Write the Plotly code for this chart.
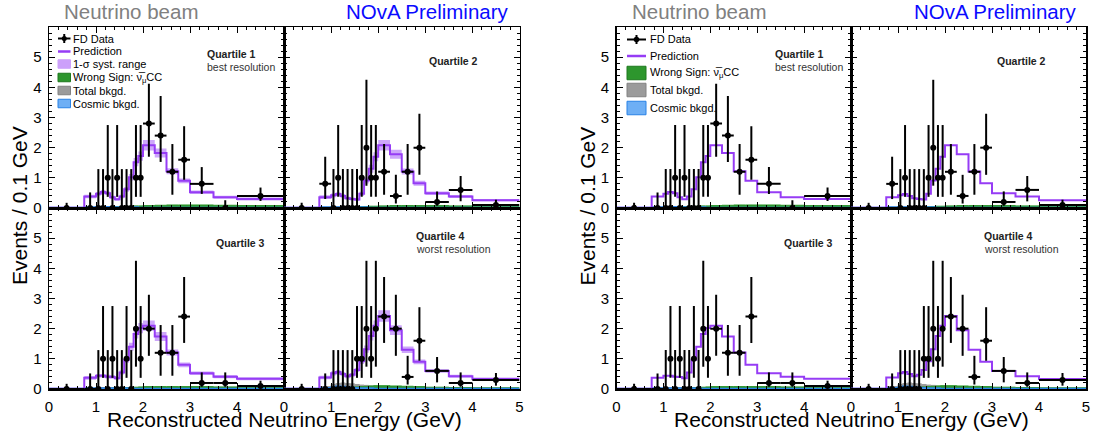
import plotly.graph_objects as go

# ---------------- data ----------------
bin_edges = [0, 0.75, 1.0, 1.1, 1.2, 1.3, 1.4, 1.5, 1.6, 1.7, 1.8, 1.9, 2.0,
             2.25, 2.5, 2.75, 3.0, 3.5, 4.0, 5.0]
tick_labels = ["0", "1", "2", "3", "4", "5"]

# observed FD events per bin
q1_counts = [0, 0, 0, 0, 1, 0, 1, 0, 0, 0, 1, 1, 7, 6, 3, 4, 4, 0, 4]
q2_counts = [0, 2, 0, 1, 0, 0, 0, 0, 1, 2, 1, 1, 3, 1, 3, 5, 1, 3, 1]
q3_counts = [0, 0, 0, 1, 0, 1, 0, 0, 1, 0, 2, 1, 5, 3, 3, 6, 1, 1, 1]
q4_counts = [0, 0, 0, 0, 0, 0, 0, 1, 1, 2, 1, 2, 6, 5, 1, 4, 3, 1, 3]

# Feldman-Cousins 68% intervals for n = 0..7 events
fc_lower = [0.00, 0.37, 0.74, 1.10, 2.34, 2.75, 3.82, 4.25]
fc_upper = [1.29, 2.75, 4.25, 5.30, 6.78, 7.81, 9.28, 10.30]

# prediction (events / 0.1 GeV)
q1_pred = [0.01, 0.38, 0.47, 0.53, 0.49, 0.36, 0.29, 0.38, 0.62, 1.02, 1.52, 1.72, 2.08, 1.82, 1.22, 0.90, 0.52, 0.36, 0.30]
q2_pred = [0.01, 0.36, 0.42, 0.46, 0.40, 0.32, 0.30, 0.28, 0.47, 0.91, 1.30, 1.70, 2.08, 1.78, 1.21, 0.82, 0.49, 0.38, 0.26]
q3_pred = [0.01, 0.37, 0.44, 0.44, 0.41, 0.40, 0.36, 0.55, 0.97, 1.40, 1.82, 2.02, 2.10, 1.74, 1.21, 0.80, 0.52, 0.41, 0.34]
q4_pred = [0.01, 0.38, 0.52, 0.56, 0.50, 0.42, 0.47, 0.63, 0.92, 1.32, 1.76, 2.10, 2.42, 1.95, 1.30, 0.90, 0.60, 0.42, 0.33]

# 1-sigma systematic half-width
q1_syst = [0.005, 0.06, 0.06, 0.07, 0.06, 0.05, 0.05, 0.06, 0.08, 0.11, 0.14, 0.15, 0.17, 0.15, 0.10, 0.08, 0.06, 0.05, 0.05]
q2_syst = [0.005, 0.06, 0.06, 0.06, 0.06, 0.05, 0.05, 0.05, 0.07, 0.10, 0.13, 0.15, 0.17, 0.15, 0.10, 0.08, 0.06, 0.05, 0.04]
q3_syst = [0.005, 0.06, 0.06, 0.06, 0.06, 0.06, 0.05, 0.07, 0.10, 0.13, 0.15, 0.17, 0.17, 0.15, 0.10, 0.08, 0.06, 0.05, 0.05]
q4_syst = [0.005, 0.06, 0.07, 0.07, 0.06, 0.06, 0.06, 0.07, 0.09, 0.12, 0.15, 0.17, 0.19, 0.16, 0.11, 0.08, 0.06, 0.05, 0.05]

# backgrounds
q1_wrongsign = [0.00, 0.01, 0.02, 0.02, 0.03, 0.03, 0.04, 0.04, 0.05, 0.06, 0.07, 0.07, 0.08, 0.09, 0.10, 0.10, 0.10, 0.09, 0.08]
q2_wrongsign = [0.00, 0.01, 0.02, 0.02, 0.02, 0.03, 0.03, 0.04, 0.04, 0.05, 0.06, 0.06, 0.07, 0.08, 0.08, 0.08, 0.08, 0.07, 0.06]
q3_wrongsign = [0.00, 0.01, 0.02, 0.02, 0.02, 0.03, 0.03, 0.04, 0.05, 0.05, 0.06, 0.07, 0.08, 0.08, 0.08, 0.08, 0.08, 0.07, 0.06]
q4_wrongsign = [0.00, 0.02, 0.03, 0.04, 0.05, 0.05, 0.06, 0.07, 0.08, 0.09, 0.10, 0.11, 0.11, 0.10, 0.09, 0.08, 0.06, 0.05, 0.04]

q1_totbkg = [0.01, 0.03, 0.04, 0.04, 0.04, 0.04, 0.04, 0.04, 0.04, 0.03, 0.03, 0.03, 0.03, 0.02, 0.02, 0.02, 0.02, 0.02, 0.02]
q2_totbkg = [0.01, 0.03, 0.04, 0.04, 0.04, 0.04, 0.04, 0.04, 0.04, 0.03, 0.03, 0.03, 0.03, 0.02, 0.02, 0.02, 0.02, 0.02, 0.02]
q3_totbkg = [0.01, 0.03, 0.04, 0.05, 0.05, 0.05, 0.04, 0.04, 0.04, 0.04, 0.03, 0.03, 0.03, 0.02, 0.02, 0.02, 0.02, 0.02, 0.02]
q4_totbkg = [0.01, 0.08, 0.15, 0.18, 0.20, 0.18, 0.17, 0.15, 0.13, 0.12, 0.10, 0.09, 0.08, 0.06, 0.05, 0.04, 0.03, 0.02, 0.02]

q1_cosmic = [0.02, 0.03, 0.04, 0.04, 0.04, 0.03, 0.03, 0.03, 0.03, 0.03, 0.03, 0.02, 0.02, 0.02, 0.02, 0.02, 0.02, 0.02, 0.02]
q2_cosmic = [0.02, 0.03, 0.03, 0.03, 0.03, 0.03, 0.03, 0.03, 0.03, 0.03, 0.02, 0.02, 0.02, 0.02, 0.02, 0.02, 0.02, 0.02, 0.02]
q3_cosmic = [0.02, 0.03, 0.03, 0.03, 0.03, 0.03, 0.03, 0.03, 0.03, 0.03, 0.02, 0.02, 0.02, 0.02, 0.02, 0.02, 0.02, 0.02, 0.02]
q4_cosmic = [0.02, 0.04, 0.07, 0.09, 0.08, 0.07, 0.05, 0.04, 0.03, 0.03, 0.03, 0.02, 0.02, 0.02, 0.02, 0.02, 0.02, 0.02, 0.02]

quartiles = [
    dict(counts=q1_counts, pred=q1_pred, syst=q1_syst, ws=q1_wrongsign, tot=q1_totbkg, cos=q1_cosmic),
    dict(counts=q2_counts, pred=q2_pred, syst=q2_syst, ws=q2_wrongsign, tot=q2_totbkg, cos=q2_cosmic),
    dict(counts=q3_counts, pred=q3_pred, syst=q3_syst, ws=q3_wrongsign, tot=q3_totbkg, cos=q3_cosmic),
    dict(counts=q4_counts, pred=q4_pred, syst=q4_syst, ws=q4_wrongsign, tot=q4_totbkg, cos=q4_cosmic),
]

# ---------------- style ----------------
W, H = 1095, 434
FONT = "Liberation Sans, Arial, Helvetica, sans-serif"
PRED_COLOR = "rgb(150,60,245)"
BAND_COLOR = "rgba(196,150,250,0.85)"
WS_COLOR = "rgb(45,150,45)"
TOT_COLOR = "rgb(155,155,155)"
COS_FILL = "rgb(110,175,245)"
COS_LINE = "rgb(40,130,230)"

# panel pixel boxes
fig_cols = [[(49, 284), (284, 519.5)], [(616.5, 851), (851, 1086)]]
rows_px = [(27, 208), (208, 389)]


def px(x):
    return x / W


def py(y):
    return 1 - y / H


centers = [(bin_edges[i] + bin_edges[i + 1]) / 2 for i in range(len(bin_edges) - 1)]
halfw = [(bin_edges[i + 1] - bin_edges[i]) / 2 for i in range(len(bin_edges) - 1)]
scale = [0.1 / (bin_edges[i + 1] - bin_edges[i]) for i in range(len(bin_edges) - 1)]


def step(vals):
    return list(vals) + [vals[-1]]


fig = go.Figure()
layout_axes = {}

for f in range(2):
    for qi, q in enumerate(quartiles):
        k = f * 4 + qi + 1
        row, col = qi // 2, qi % 2
        xa = "x" if k == 1 else f"x{k}"
        ya = "y" if k == 1 else f"y{k}"

        # backgrounds
        fig.add_trace(go.Scatter(x=bin_edges, y=step(q["tot"]), mode="lines", line=dict(shape="hv", color=TOT_COLOR, width=1),
                                 fill="tozeroy", fillcolor=TOT_COLOR, xaxis=xa, yaxis=ya, showlegend=False, hoverinfo="skip"))
        fig.add_trace(go.Scatter(x=bin_edges, y=step(q["ws"]), mode="lines", line=dict(shape="hv", color=WS_COLOR, width=1),
                                 fill="tozeroy", fillcolor=WS_COLOR, xaxis=xa, yaxis=ya, showlegend=False, hoverinfo="skip"))
        fig.add_trace(go.Scatter(x=bin_edges, y=step(q["cos"]), mode="lines", line=dict(shape="hv", color=COS_LINE, width=1.5),
                                 fill="tozeroy", fillcolor=COS_FILL, xaxis=xa, yaxis=ya, showlegend=False, hoverinfo="skip"))

        # systematic band (left figure only)
        if f == 0:
            lo = [p - s for p, s in zip(q["pred"], q["syst"])]
            hi = [p + s for p, s in zip(q["pred"], q["syst"])]
            fig.add_trace(go.Scatter(x=bin_edges, y=step(lo), mode="lines", line=dict(shape="hv", width=0, color=BAND_COLOR),
                                     xaxis=xa, yaxis=ya, showlegend=False, hoverinfo="skip"))
            fig.add_trace(go.Scatter(x=bin_edges, y=step(hi), mode="lines", line=dict(shape="hv", width=0, color=BAND_COLOR),
                                     fill="tonexty", fillcolor=BAND_COLOR, xaxis=xa, yaxis=ya, showlegend=False, hoverinfo="skip"))

        # prediction
        fig.add_trace(go.Scatter(x=bin_edges, y=step(q["pred"]), mode="lines", line=dict(shape="hv", color=PRED_COLOR, width=2),
                                 xaxis=xa, yaxis=ya, showlegend=False, hoverinfo="skip"))

        # data
        vals = [c * s for c, s in zip(q["counts"], scale)]
        up = [fc_upper[c] * s - c * s for c, s in zip(q["counts"], scale)]
        dn = [c * s - fc_lower[c] * s for c, s in zip(q["counts"], scale)]
        fig.add_trace(go.Scatter(x=centers, y=vals, mode="markers", marker=dict(color="black", size=6),
                                 error_y=dict(type="data", symmetric=False, array=up, arrayminus=dn, width=0, thickness=2, color="black"),
                                 error_x=dict(type="data", array=halfw, width=0, thickness=2, color="black"),
                                 xaxis=xa, yaxis=ya, showlegend=False, cliponaxis=True))

        x0, x1 = fig_cols[f][col]
        y0, y1 = rows_px[row]
        common = dict(showline=True, linecolor="black", linewidth=1.5, mirror="allticks", ticks="inside",
                      ticklen=6, tickwidth=1, tickcolor="black", showgrid=False, zeroline=False, automargin=False,
                      minor=dict(ticks="inside", ticklen=3, tickwidth=1, tickcolor="black", dtick=0.2, tick0=0, showgrid=False),
                      tickfont=dict(size=15, family=FONT, color="black"), fixedrange=True)
        xlabels = tick_labels if col == 1 else tick_labels[:5] + [""]
        layout_axes["xaxis" if k == 1 else f"xaxis{k}"] = dict(
            common, domain=[px(x0), px(x1)], range=[0, 5], anchor=ya,
            tickmode="array", tickvals=[0, 1, 2, 3, 4, 5], ticktext=xlabels,
            showticklabels=(row == 1), ticklabelstandoff=3)
        layout_axes["yaxis" if k == 1 else f"yaxis{k}"] = dict(
            common, domain=[py(y1), py(y0)], range=[0, 6], anchor=xa,
            tickmode="array", tickvals=[0, 1, 2, 3, 4, 5, 6], ticktext=tick_labels + [""],
            showticklabels=(col == 0), ticklabelstandoff=3)

annotations = []
shapes = []

def txt(x, y, s, size, color="black", xanchor="left", bold=False, angle=0):
    annotations.append(dict(x=px(x), y=py(y), xref="paper", yref="paper", text=(f"<b>{s}</b>" if bold else s),
                            showarrow=False, xanchor=xanchor, yanchor="middle", textangle=angle,
                            font=dict(family=FONT, size=size, color=color)))

for f, offs in enumerate([0, 567.5]):
    # titles
    txt(62 + offs, 12, "Neutrino beam", 20.5, color="rgb(128,128,128)")
    txt(511 + offs, 12, "NOvA Preliminary", 20.5, color="rgb(10,10,255)", xanchor="right")
    # axis titles
    txt(19 + offs, 206, "Events / 0.1 GeV", 21, xanchor="center", angle=-90)
    txt(284 + offs, 419, "Reconstructed Neutrino Energy (GeV)", 21, xanchor="center")
    # quartile labels
    txt(205 + offs, 54, "Quartile 1", 10.5, color="#222", bold=True)
    txt(205 + offs, 67, "best resolution", 10.5, color="#333")
    txt(427 + offs, 61.5, "Quartile 2", 10.5, color="#222", bold=True)
    txt(214 + offs, 242.5, "Quartile 3", 10.5, color="#222", bold=True)
    txt(414 + offs, 236, "Quartile 4", 10.5, color="#222", bold=True)
    txt(414 + offs, 248.5, "worst resolution", 10.5, color="#333")

# ---- legends ----
def legend(entries, x0, x1, tx, marker_size):
    for kind, yc, label, h in entries:
        xc = (x0 + x1) / 2
        if kind == "data":
            shapes.append(dict(type="line", xref="paper", yref="paper", x0=px(x0), x1=px(x1), y0=py(yc), y1=py(yc),
                               line=dict(color="black", width=2)))
            shapes.append(dict(type="line", xref="paper", yref="paper", x0=px(xc), x1=px(xc), y0=py(yc - 4.5), y1=py(yc + 4.5),
                               line=dict(color="black", width=2)))
            r = marker_size
            shapes.append(dict(type="circle", xref="paper", yref="paper", x0=px(xc - r), x1=px(xc + r), y0=py(yc + r), y1=py(yc - r),
                               fillcolor="black", line=dict(color="black", width=0)))
        elif kind == "line":
            shapes.append(dict(type="line", xref="paper", yref="paper", x0=px(x0), x1=px(x1), y0=py(yc), y1=py(yc),
                               line=dict(color=PRED_COLOR, width=2.5)))
        else:
            fill, edge = kind
            shapes.append(dict(type="rect", xref="paper", yref="paper", x0=px(x0), x1=px(x1), y0=py(yc + h / 2), y1=py(yc - h / 2),
                               fillcolor=fill, line=dict(color=edge, width=1)))
        txt(tx, yc, label, 11)

legend([
    ("data", 38.5, "FD Data", 0),
    ("line", 51.5, "Prediction", 0),
    (("rgb(204,160,250)", "rgb(204,160,250)"), 64, "1-σ syst. range", 8.5),
    ((WS_COLOR, "rgb(30,120,30)"), 77.5, "Wrong Sign: ν\u0305<sub>μ</sub>CC", 8.5),
    ((TOT_COLOR, "rgb(130,130,130)"), 90.5, "Total bkgd.", 8.5),
    ((COS_FILL, COS_LINE), 103.5, "Cosmic bkgd.", 8.5),
], 58, 70.5, 71, 2.5)

legend([
    ("data", 39.5, "FD Data", 0),
    ("line", 56, "Prediction", 0),
    ((WS_COLOR, "rgb(30,120,30)"), 73, "Wrong Sign: ν\u0305<sub>μ</sub>CC", 13.5),
    ((TOT_COLOR, "rgb(130,130,130)"), 90, "Total bkgd.", 13.5),
    ((COS_FILL, COS_LINE), 108, "Cosmic bkgd.", 13.5),
], 627, 646, 647.5, 2.8)

fig.update_layout(
    width=W, height=H, margin=dict(l=0, r=0, t=0, b=0),
    paper_bgcolor="white", plot_bgcolor="white",
    showlegend=False, annotations=annotations, shapes=shapes,
    font=dict(family=FONT),
    **layout_axes,
)

fig.write_html("out.html", config={"displayModeBar": False, "staticPlot": True},
               post_script="document.body.style.margin='0px';document.body.style.overflow='hidden';")
